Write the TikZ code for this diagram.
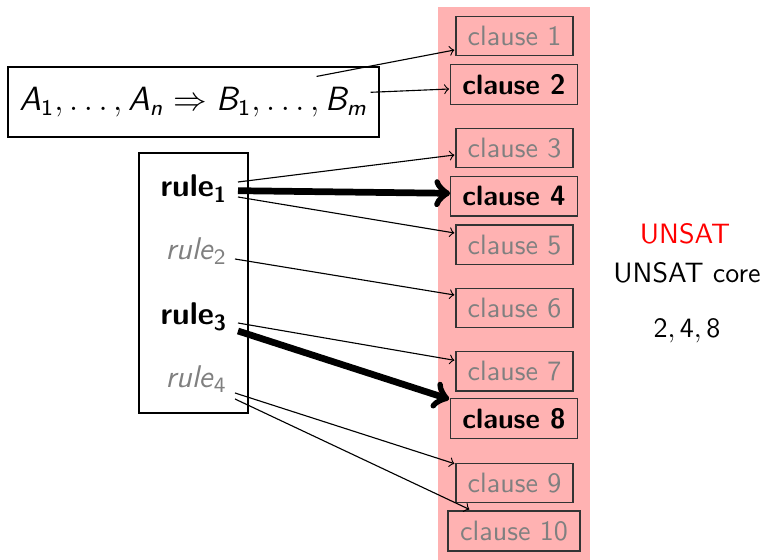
\documentclass[tikz,border=0pt]{standalone}
\usetikzlibrary{calc}
\DeclareMathAlphabet{\mathsfit}{OT1}{cmss}{m}{sl}
\DeclareMathAlphabet{\mathsfup}{OT1}{cmss}{m}{n}
\def\u{0.357pt}
\tikzset{
  clausebox/.style={draw=black!80, line width=0.4pt, inner sep=0pt, minimum width=117*\u, minimum height=39.5*\u, text=black!50},
  corebox/.style={clausebox, minimum width=126.5*\u, text=black, font=\sffamily\bfseries},
  rulelbl/.style={anchor=base west, inner sep=0pt, font=\sffamily\fontsize{11.2}{13}\selectfont},
  thinarrow/.style={->, line width=0.4pt},
  thickarrow/.style={->, line width=2.4pt},
  plainbox/.style={draw=black, line width=0.4pt}
}
\begin{document}
\begin{tikzpicture}[x=\u, y=-\u, font=\sffamily]
\useasboundingbox (0,0) rectangle (766,560);
\fill[red!30] (438,7) rectangle (590,560);

% formula
\node[plainbox, minimum width=371*\u, minimum height=70*\u, inner sep=0pt] (f) at (193.5,102)
  {\large $\mathsfit{A}_{\mathsfup{1}},\ldots,\mathsfit{A}_{\mathsfit{n}}\Rightarrow \mathsfit{B}_{\mathsfup{1}},\ldots,\mathsfit{B}_{\mathsfit{m}}$};

% rule box
\node[plainbox, minimum width=109*\u, minimum height=260*\u, inner sep=0pt] (rb) at (193.5,283) {};
\node[rulelbl] (r1) at (160,197) {\textbf{rule}\textsubscript{\textbf{1}}};
\node[rulelbl, text=black!50] (r2) at (165,260) {\textit{rule}\textsubscript{2}};
\node[rulelbl] (r3) at (160,325) {\textbf{rule}\textsubscript{\textbf{3}}};
\node[rulelbl, text=black!50] (r4) at (165,388) {\textit{rule}\textsubscript{4}};

% clauses
\node[clausebox] (c1) at (514.5,36) {clause 1};
\node[corebox] (c2) at (514,84.5) {clause 2};
\node[clausebox] (c3) at (514.5,148) {clause 3};
\node[corebox] (c4) at (514,196.3) {clause 4};
\node[clausebox] (c5) at (514.5,244.7) {clause 5};
\node[clausebox] (c6) at (514.5,308) {clause 6};
\node[clausebox] (c7) at (514.5,371.3) {clause 7};
\node[corebox] (c8) at (514,418.5) {clause 8};
\node[clausebox] (c9) at (514.5,483) {clause 9};
\node[clausebox, minimum width=132*\u, minimum height=40*\u] (c10) at (514,531) {clause 10};

% right texts
\node[anchor=base, text=red] (unsat) at (685,243) {UNSAT};
\node[anchor=base] (core) at (687,282) {UNSAT core};
\node[anchor=base] (nums) at (687,338) {$\mathsfup{2},\mathsfup{4},\mathsfup{8}$};

% connectors
\draw[thinarrow] ($(f.north east)+(-63,10)$) -- ($(c1.west)+(-1,14)$);
\draw[thinarrow] ($(f.east)+(-9,-9.7)$) -- ($(c2.west)+(-1,4.5)$);
\draw[thinarrow] ($(r1.base west)+(78,-15)$) -- ($(c3.west)+(-1,7)$);
\draw[thickarrow] ($(r1.base west)+(78,-6.3)$) -- ($(c4.west)+(0,-3)$);
\draw[thinarrow] ($(r1.base west)+(78,0)$) -- ($(c5.west)+(-1,-11.7)$);
\draw[thinarrow] ($(r2.base west)+(70,-1)$) -- ($(c6.west)+(-1,-13)$);
\draw[thinarrow] ($(r3.base west)+(78,-2)$) -- ($(c7.west)+(-1,-11)$);
\draw[thickarrow] ($(r3.base west)+(78,6)$) -- ($(c8.north west)+(-1,1)$);
\draw[thinarrow] ($(r4.base west)+(70,5)$) -- ($(c9.north west)+(-1,1)$);
\draw[thinarrow] ($(r4.base west)+(70,11)$) -- ($(c10.north west)+(22,-1)$);
\end{tikzpicture}
\end{document}
